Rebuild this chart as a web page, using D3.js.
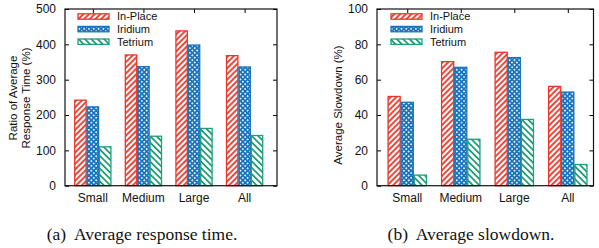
<!DOCTYPE html>
<html>
<head>
<meta charset="utf-8">
<script src="https://cdn.jsdelivr.net/npm/d3@7"></script>
<style>
  body { margin: 0; background: #fff; }
  text { font-family: "Liberation Sans", Arial, sans-serif; fill: #111; }
  .caption { font-family: "Liberation Serif", "DejaVu Serif", serif; font-size: 17.5px; }
</style>
</head>
<body>
<div id="chart"></div>
<script>
var svgWidth = 599;
var svgHeight = 248;

// data
var categories = ["Small", "Medium", "Large", "All"];
var seriesNames = ["In-Place", "Iridium", "Tetrium"];
var responseInPlace = [242, 370, 438, 368];
var responseIridium = [223, 337, 398, 336];
var responseTetrium = [110, 140, 162, 142];
var slowdownInPlace = [50.5, 70.2, 75.5, 56.2];
var slowdownIridium = [47.2, 67.0, 72.5, 53.0];
var slowdownTetrium = [6.0, 26.3, 37.5, 12.0];
var responseTicks = [0, 100, 200, 300, 400, 500];
var slowdownTicks = [0, 20, 40, 60, 80, 100];

var colors = ["#ec3528", "#1a74bd", "#1f9e77"];

var svg = d3.select("#chart")
  .append("svg")
  .attr("width", svgWidth)
  .attr("height", svgHeight);

// fill patterns
var defs = svg.append("defs");

var p0 = defs.append("pattern")
  .attr("id", "pat0")
  .attr("patternUnits", "userSpaceOnUse")
  .attr("width", 4).attr("height", 4)
  .attr("patternTransform", "rotate(45)");
p0.append("rect").attr("width", 4).attr("height", 4).attr("fill", "#fff");
p0.append("rect").attr("width", 1.8).attr("height", 4).attr("fill", colors[0]);

var p1 = defs.append("pattern")
  .attr("id", "pat1")
  .attr("patternUnits", "userSpaceOnUse")
  .attr("width", 3.4).attr("height", 3.4)
  .attr("patternTransform", "rotate(45)");
p1.append("rect").attr("width", 3.4).attr("height", 3.4).attr("fill", colors[1]);
p1.append("rect").attr("x", 0.9).attr("y", 0.9).attr("width", 1.6).attr("height", 1.6).attr("fill", "#fff");

var p2 = defs.append("pattern")
  .attr("id", "pat2")
  .attr("patternUnits", "userSpaceOnUse")
  .attr("width", 4.5).attr("height", 4.5)
  .attr("patternTransform", "rotate(-45)");
p2.append("rect").attr("width", 4.5).attr("height", 4.5).attr("fill", "#fff");
p2.append("rect").attr("width", 1.8).attr("height", 4.5).attr("fill", colors[2]);

function drawPanel(opts) {
  var g = svg.append("g");

  var x = d3.scaleLinear()
    .domain(opts.xDomain)
    .range([opts.left, opts.right]);

  var y = d3.scaleLinear()
    .domain([0, opts.yMax])
    .range([opts.bottom, opts.top]);

  var barW = x(0.245) - x(0);

  // y ticks, left and mirrored on the right
  g.append("g")
    .attr("transform", `translate(${opts.left},0)`)
    .call(d3.axisRight(y).tickValues(opts.ticks).tickSize(4).tickFormat(""))
    .call(a => a.select(".domain").remove());
  g.append("g")
    .attr("transform", `translate(${opts.right},0)`)
    .call(d3.axisLeft(y).tickValues(opts.ticks).tickSize(4).tickFormat(""))
    .call(a => a.select(".domain").remove());

  // tick labels
  g.selectAll(".ylab")
    .data(opts.ticks)
    .enter()
    .append("text")
    .attr("x", opts.left - 9)
    .attr("y", d => y(d))
    .attr("dy", "0.36em")
    .attr("text-anchor", "end")
    .attr("font-size", "12px")
    .text(d => d);

  // x ticks, top and bottom
  g.append("g")
    .attr("transform", `translate(0,${opts.top})`)
    .call(d3.axisBottom(x).tickValues([0, 1, 2, 3]).tickSize(4).tickFormat(""))
    .call(a => a.select(".domain").remove());
  g.append("g")
    .attr("transform", `translate(0,${opts.bottom})`)
    .call(d3.axisTop(x).tickValues([0, 1, 2, 3]).tickSize(4).tickFormat(""))
    .call(a => a.select(".domain").remove());

  g.selectAll(".xlab")
    .data(categories)
    .enter()
    .append("text")
    .attr("x", (d, i) => x(i))
    .attr("y", opts.bottom + 16)
    .attr("text-anchor", "middle")
    .attr("font-size", "12px")
    .text(d => d);

  // bars
  opts.series.forEach(function(vals, s) {
    g.selectAll(".bar" + s)
      .data(vals)
      .enter()
      .append("rect")
      .attr("x", (d, i) => x(i) + (s - 1.5) * barW + 0.5)
      .attr("y", d => y(d))
      .attr("width", barW - 1)
      .attr("height", d => y(0) - y(d))
      .attr("fill", `url(#pat${s})`)
      .attr("stroke", colors[s])
      .attr("stroke-width", 1.3);
  });

  // frame
  g.append("rect")
    .attr("x", opts.left)
    .attr("y", opts.top)
    .attr("width", opts.right - opts.left)
    .attr("height", opts.bottom - opts.top)
    .attr("fill", "none")
    .attr("stroke", "#111")
    .attr("stroke-width", 1.2);

  // legend
  var leg = g.append("g");
  seriesNames.forEach(function(name, s) {
    var cy = opts.top + 7.5 + s * 12.6;
    leg.append("rect")
      .attr("x", opts.legX)
      .attr("y", cy - 2.7)
      .attr("width", 31)
      .attr("height", 5.4)
      .attr("fill", `url(#pat${s})`)
      .attr("stroke", colors[s])
      .attr("stroke-width", 1.3);
    leg.append("text")
      .attr("x", opts.legX + 39)
      .attr("y", cy)
      .attr("dy", "0.36em")
      .attr("font-size", "11px")
      .text(name);
  });

  // y axis label
  var ylab = g.append("text")
    .attr("transform", `translate(${opts.ylabX},${opts.ylabY}) rotate(-90)`)
    .attr("text-anchor", "middle")
    .attr("font-size", "11.5px");
  opts.ylabel.forEach(function(line, i) {
    ylab.append("tspan")
      .attr("x", 0)
      .attr("dy", i === 0 ? 0 : "1.1em")
      .text(line);
  });

  svg.append("text")
    .attr("class", "caption")
    .attr("x", opts.capX)
    .attr("y", 240)
    .attr("text-anchor", "middle")
    .attr("xml:space", "preserve")
    .text(opts.caption);
}

drawPanel({
  left: 65, right: 277, top: 9, bottom: 185.7,
  xDomain: [-0.55, 3.64],
  yMax: 500, ticks: responseTicks,
  series: [responseInPlace, responseIridium, responseTetrium],
  legX: 78,
  ylabel: ["Ratio of Average", "Response Time (%)"],
  ylabX: 17, ylabY: 98,
  caption: "(a)  Average response time.",
  capX: 142
});

drawPanel({
  left: 377, right: 593.5, top: 9, bottom: 185.7,
  xDomain: [-0.565, 3.48],
  yMax: 100, ticks: slowdownTicks,
  series: [slowdownInPlace, slowdownIridium, slowdownTetrium],
  legX: 391,
  ylabel: ["Average Slowdown (%)"],
  ylabX: 342, ylabY: 105,
  caption: "(b)  Average slowdown.",
  capX: 471
});
</script>
</body>
</html>
